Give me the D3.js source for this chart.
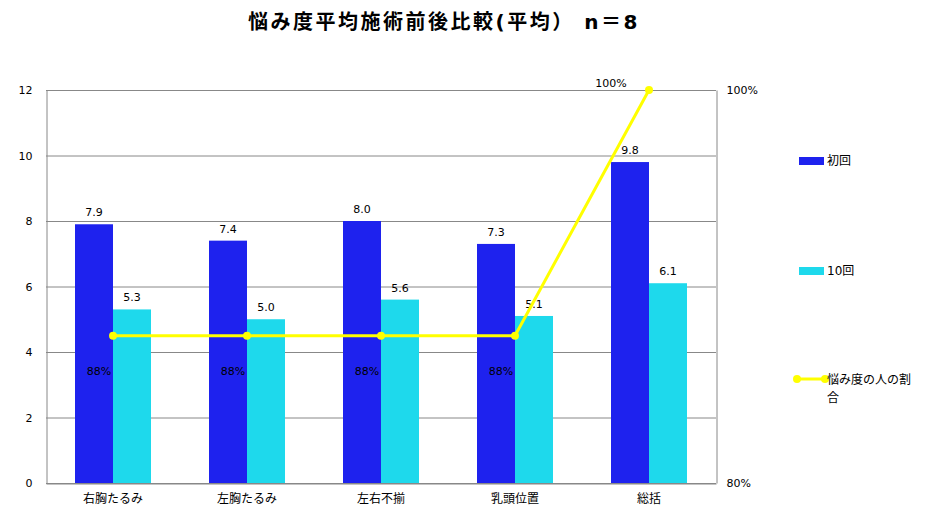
<!DOCTYPE html>
<html><head><meta charset="utf-8">
<script src="https://cdn.jsdelivr.net/npm/d3@7"></script>
<style>body{margin:0;background:#fff}svg{display:block}</style>
</head><body><svg id="c" width="930" height="526"></svg>
<script>
const categories = ["右胸たるみ","左胸たるみ","左右不揃","乳頭位置","総括"];
const first = [7.9, 7.4, 8.0, 7.3, 9.8];
const tenth = [5.3, 5.0, 5.6, 5.1, 6.1];
const ratio = [0.875, 0.875, 0.875, 0.875, 1.0];
const leftTicks = [0,2,4,6,8,10,12];
const rightTicks = [0.8, 1.0];
const seriesNames = ["初回","10回","悩み度の人の割合"];
const title = "悩み度平均施術前後比較(平均） n＝8";

const svg = d3.select("#c");
const font = "Tahoma, Verdana, 'DejaVu Sans', 'Noto Sans CJK JP', sans-serif";
const m = {l:46, r:716, t:90, b:483};
const x = d3.scaleBand().domain(categories).range([m.l, m.r]).paddingInner(0).paddingOuter(0);
const y = d3.scaleLinear().domain([0,12]).range([m.b, m.t]);
const y2 = d3.scaleLinear().domain([0.8,1.0]).range([m.b, m.t]);
const bw = 38;
const cDark = "#1e22ee", cCyan = "#1ed9ec", cYel = "#ffff00";

svg.append("text").attr("x",444).attr("y",29).attr("text-anchor","middle")
  .style("font-family",font).style("font-size","20px").style("font-weight","bold")
  .style("letter-spacing","2.5px").text(title);

// grid
svg.append("g").selectAll("line").data(leftTicks).join("line")
  .attr("x1",m.l).attr("x2",m.r).attr("y1",d=>y(d)+0.5).attr("y2",d=>y(d)+0.5)
  .attr("stroke","#888").attr("stroke-width",1);

// left axis
const la = svg.append("g").attr("transform",`translate(${m.l+0.5},0)`)
  .call(d3.axisLeft(y).tickValues(leftTicks).tickSize(0).tickPadding(14).tickFormat(d3.format("d")));
la.select(".domain").attr("stroke","#888");
la.selectAll("text").style("font-family",font).style("font-size","11px").attr("fill","#000");

// right axis
const ra = svg.append("g").attr("transform",`translate(${m.r+0.5},0)`)
  .call(d3.axisRight(y2).tickValues(rightTicks).tickSize(0).tickPadding(10).tickFormat(d3.format(".0%")));
ra.select(".domain").attr("stroke","#888");
ra.selectAll("text").style("font-family",font).style("font-size","11px").attr("fill","#000");

// bottom axis
const ba = svg.append("g").attr("transform",`translate(0,${m.b+0.5})`)
  .call(d3.axisBottom(x).tickSize(0).tickPadding(11));
ba.select(".domain").attr("stroke","#888");
ba.selectAll("text").style("font-family",font).style("font-size","12px").attr("fill","#000");

// bars
const cx = d => x(d) + x.bandwidth()/2;
svg.append("g").selectAll("rect").data(categories).join("rect")
  .attr("x",d=>cx(d)-bw).attr("width",bw)
  .attr("y",(d,i)=>y(first[i])).attr("height",(d,i)=>y(0)-y(first[i])).attr("fill",cDark);
svg.append("g").selectAll("rect").data(categories).join("rect")
  .attr("x",d=>cx(d)).attr("width",bw)
  .attr("y",(d,i)=>y(tenth[i])).attr("height",(d,i)=>y(0)-y(tenth[i])).attr("fill",cCyan);

// bar labels
svg.append("g").selectAll("text").data(categories).join("text")
  .attr("x",d=>cx(d)-bw/2).attr("y",(d,i)=>y(first[i])-8).attr("text-anchor","middle")
  .style("font-family",font).style("font-size","11px").text((d,i)=>first[i].toFixed(1));
svg.append("g").selectAll("text").data(categories).join("text")
  .attr("x",d=>cx(d)+bw/2).attr("y",(d,i)=>y(tenth[i])-8).attr("text-anchor","middle")
  .style("font-family",font).style("font-size","11px").text((d,i)=>tenth[i].toFixed(1));

// line
const line = d3.line().x((d,i)=>cx(categories[i])).y(d=>y2(d));
svg.append("path").datum(ratio).attr("d",line).attr("fill","none").attr("stroke",cYel).attr("stroke-width",3);
svg.append("g").selectAll("circle").data(ratio).join("circle")
  .attr("cx",(d,i)=>cx(categories[i])).attr("cy",d=>y2(d)).attr("r",4).attr("fill",cYel);
svg.append("g").selectAll("text").data(ratio).join("text")
  .attr("x",(d,i)=>cx(categories[i]) + (d>=1 ? -38 : -14))
  .attr("y",d=>y2(d) + (d>=1 ? -3 : 39)).attr("text-anchor","middle")
  .style("font-family",font).style("font-size","11px").text(d=>d3.format(".0%")(d));

// legend
const lg = svg.append("g").style("font-family",font).style("font-size","12px");
lg.append("rect").attr("x",799).attr("y",157).attr("width",25).attr("height",8).attr("fill",cDark);
lg.append("text").attr("x",827).attr("y",165).text(seriesNames[0]);
lg.append("rect").attr("x",799).attr("y",267).attr("width",25).attr("height",8).attr("fill",cCyan);
lg.append("text").attr("x",827).attr("y",275).text(seriesNames[1]);
lg.append("line").attr("x1",797).attr("x2",825).attr("y1",379).attr("y2",379).attr("stroke",cYel).attr("stroke-width",3);
lg.append("circle").attr("cx",797).attr("cy",379).attr("r",4).attr("fill",cYel);
lg.append("circle").attr("cx",825).attr("cy",379).attr("r",4).attr("fill",cYel);
const lt = lg.append("text").attr("x",827).attr("y",384);
lt.append("tspan").attr("x",827).text(seriesNames[2].slice(0,7));
lt.append("tspan").attr("x",827).attr("dy",18).text(seriesNames[2].slice(7));
</script></body></html>
